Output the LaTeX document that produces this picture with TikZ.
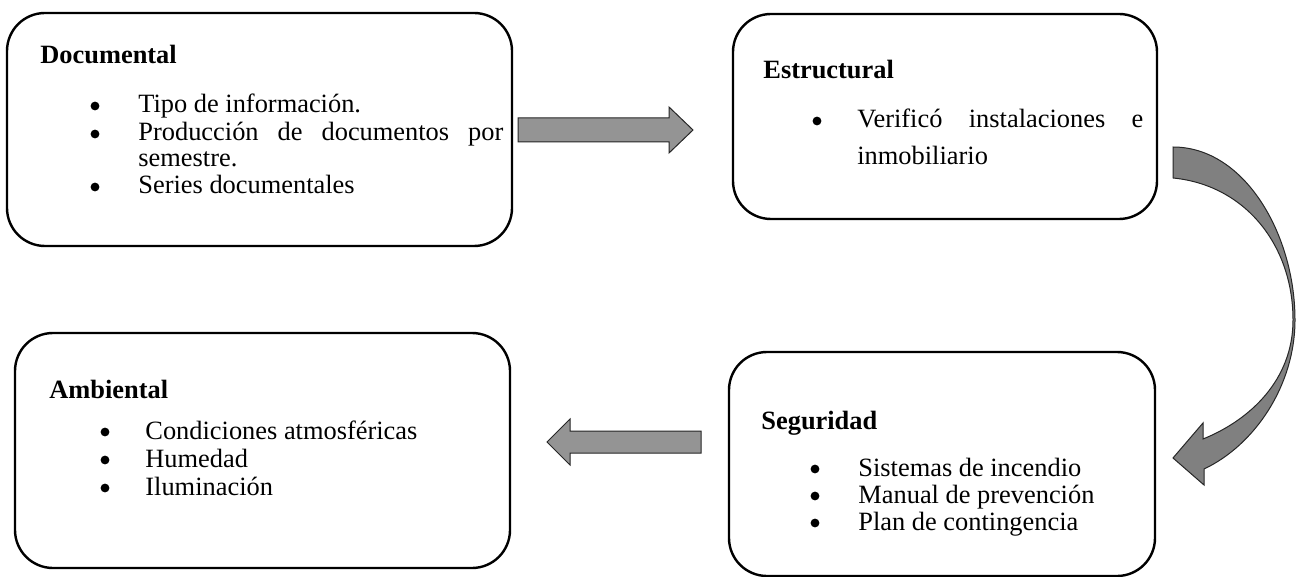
\documentclass[tikz,border=0pt]{standalone}
\usepackage{fontspec}
\setmainfont{Liberation Serif}
\usetikzlibrary{fit,calc}

\begin{document}
\begin{tikzpicture}[x=0.5pt, y=-0.5pt,
                    every node/.style={font=\fontsize{13.2}{15}\selectfont},
                    caja/.style={draw, line width=1.2pt, rounded corners=19pt, inner sep=0pt},
                    titulo/.style={anchor=base west, inner sep=0pt, font=\fontsize{13.2}{15}\selectfont\bfseries},
                    linea/.style={anchor=base west, inner sep=0pt},
                    flecha/.style={draw=black!85, line width=0.5pt, fill=black!42}]
   \useasboundingbox (0,0) rectangle (1296,577);

   % Cajas
   \node[caja, fit={(7,13) (512,246)}] (documental) {};
   \node[caja, fit={(733,14) (1157,219)}] (estructural) {};
   \node[caja, fit={(729,352) (1155,576)}] (seguridad) {};
   \node[caja, fit={(15,333) (510,568)}] (ambiental) {};

   % Documental
   \node[titulo] (doc-t) at (40,64) {Documental};
   \node[linea] (doc-1) at (138,113) {Tipo de información.};
   \node[linea] (doc-2) at (138,141) {\makebox[182.5pt][s]{Producción de documentos por}};
   \node[linea] (doc-3) at (138,167) {semestre.};
   \node[linea] (doc-4) at (138,194) {Series documentales};

   % Estructural
   \node[titulo] (est-t) at (763,79) {Estructural};
   \node[linea] (est-1) at (857,128) {\makebox[143pt][s]{Verificó instalaciones e}};
   \node[linea] (est-2) at (857,165) {inmobiliario};

   % Seguridad
   \node[titulo] (seg-t) at (761,429) {Seguridad};
   \node[linea] (seg-1) at (858,476) {Sistemas de incendio};
   \node[linea] (seg-2) at (858,503) {Manual de prevención};
   \node[linea] (seg-3) at (858,530) {Plan de contingencia};

   % Ambiental
   \node[titulo] (amb-t) at (49,398) {Ambiental};
   \node[linea] (amb-1) at (145,439) {Condiciones atmosféricas};
   \node[linea] (amb-2) at (145,467) {Humedad};
   \node[linea] (amb-3) at (145,495) {Iluminación};

   % Viñetas
   \foreach \n/\d in {doc-1/43, doc-2/43, doc-4/43, est-1/40, seg-1/43,
                      seg-2/43, seg-3/43, amb-1/40, amb-2/40, amb-3/40}
     \fill ($(\n.base west)+(-\d,-7)$) circle[radius=2.2pt];

   % Flechas
   \draw[flecha] (518,118) -- (669,118) -- (669,107) -- (693,130) -- (669,153)
                 -- (669,142) -- (518,142) -- cycle;
   \draw[flecha, fill=black!50] (1173,147) .. controls (1245,147) and (1295,235) .. (1295,320)
                 .. controls (1295,385) and (1255,445) .. (1204,469) -- (1204,485) -- (1173,458)
                 -- (1203,423) -- (1203,439) .. controls (1250,420) and (1293,380) .. (1293,320)
                 .. controls (1293,245) and (1245,185) .. (1173,178) -- cycle;
   \draw[flecha] (701,431) -- (570,431) -- (570,419) -- (547,442) -- (570,465)
                 -- (570,453) -- (701,453) -- cycle;
\end{tikzpicture}
\end{document}
